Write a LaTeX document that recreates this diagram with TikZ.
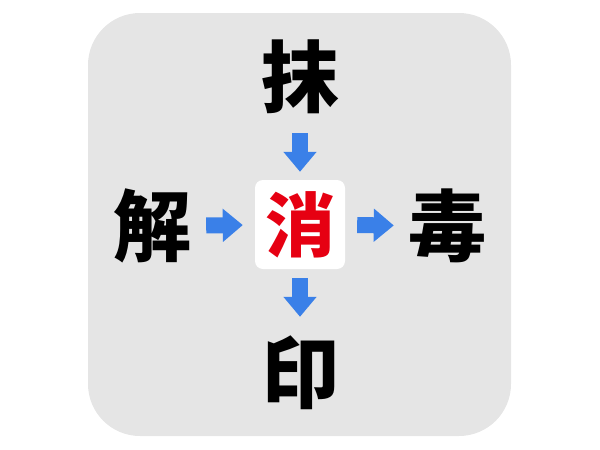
\documentclass[tikz,border=0pt]{standalone}
\usepackage{xcolor}
\usepackage{fontspec}
\usepackage{tikz}
\usetikzlibrary{arrows.meta}
\newfontfamily\cjk{Noto Sans CJK JP}
\definecolor{bggray}{RGB}{229,229,229}
\definecolor{arrowblue}{RGB}{58,128,232}
\definecolor{midred}{RGB}{230,0,18}
\begin{document}
\begin{tikzpicture}[x=1pt,y=-1pt,
    charbox/.style={inner sep=0pt, minimum size=76pt, font=\cjk\bfseries\fontsize{78}{78}\selectfont},
    bluearrow/.style={draw=arrowblue, line width=16pt, -{Triangle[width=32pt,length=20pt]}}]
    \useasboundingbox (0,0) rectangle (600,450);
    % Background
    \fill[bggray, rounded corners=52pt] (88,13) rectangle (511,436);
    
    % Middle box
    \node[fill=white, rounded corners=8pt, minimum width=90pt, minimum height=89pt, inner sep=0pt,
          text=midred, font=\cjk\bfseries\fontsize{70}{70}\selectfont] (charMid) at (300,224.5) {消};
    
    % Surrounding characters
    \node[charbox] (charTop) at (300,77) {抹};
    \node[charbox] (charLeft) at (152,226) {解};
    \node[charbox] (charRight) at (447,226) {毒};
    \node[charbox] (charBottom) at (300,373) {印};
    
    % Arrows
    \draw[bluearrow, shorten <=18pt, shorten >=8pt] (charTop) -- (charMid);
    \draw[bluearrow, shorten <=15pt, shorten >=12pt] (charLeft) -- (charMid);
    \draw[bluearrow, shorten <=12pt, shorten >=14pt] (charMid) -- (charRight);
    \draw[bluearrow, shorten <=9pt, shorten >=18pt] (charMid) -- (charBottom);
\end{tikzpicture}
\end{document}
